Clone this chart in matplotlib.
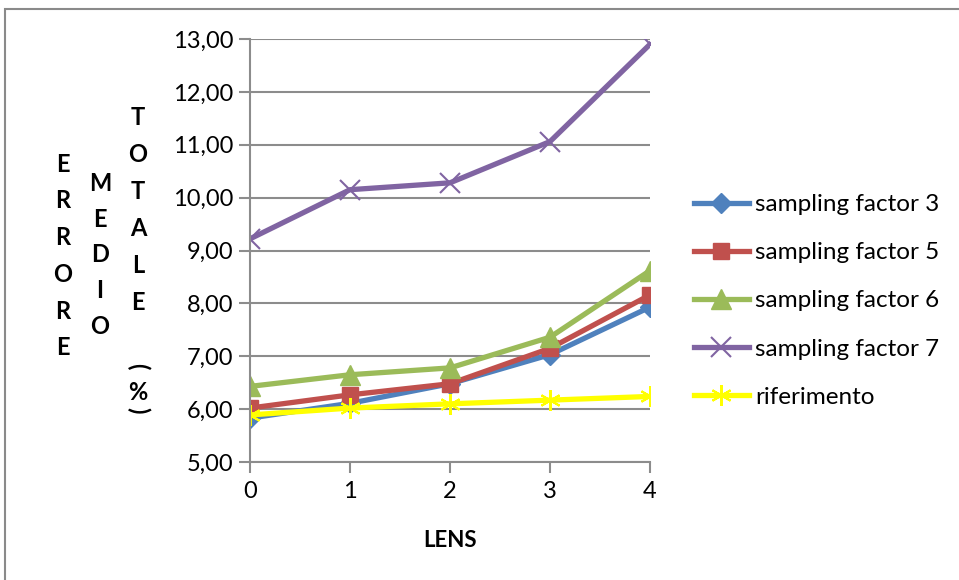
import matplotlib
matplotlib.use("Agg")
import matplotlib.pyplot as plt
from matplotlib.patches import Rectangle
from matplotlib.ticker import FuncFormatter

plt.rcParams['font.family'] = ['Lato', 'DejaVu Sans']

lens = [0, 1, 2, 3, 4]
sf3 = [5.83, 6.11, 6.48, 7.03, 7.93]
sf5 = [6.02, 6.27, 6.48, 7.15, 8.16]
sf6 = [6.43, 6.65, 6.78, 7.36, 8.62]
sf7 = [9.22, 10.15, 10.28, 11.06, 12.90]
rif = [5.89, 6.02, 6.10, 6.17, 6.24]
labels = ["sampling factor 3", "sampling factor 5", "sampling factor 6",
          "sampling factor 7", "riferimento"]
yticks = [5, 6, 7, 8, 9, 10, 11, 12, 13]

W, H = 959, 580
fig = plt.figure(figsize=(W / 100, H / 100), dpi=100)
fig.patches.append(Rectangle((5 / W, -0.1), 1.2, 1 - 9 / H + 0.1, transform=fig.transFigure,
                             fill=False, edgecolor='#8a8a8a', linewidth=1.5))

ax = fig.add_axes([250 / W, 1 - 462 / H, 400 / W, 423 / H])
grid_c = '#8c8c8c'
lw = 3.8
ax.plot(lens, sf3, color='#4F81BD', lw=lw, marker='D', ms=10, label=labels[0])
ax.plot(lens, sf5, color='#C0504D', lw=lw, marker='s', ms=12, label=labels[1])
ax.plot(lens, sf6, color='#9BBB59', lw=lw, marker='^', ms=14, label=labels[2])
ax.plot(lens, sf7, color='#8064A2', lw=lw, marker='x', ms=14, mew=1.5, label=labels[3])
ax.plot(lens, rif, color='#FFFF00', lw=lw, marker=(6, 2, 0), ms=15, mew=1.5, label=labels[4])

ax.set_xlim(0, 4)
ax.set_ylim(5, 13)
ax.set_xticks(lens)
ax.set_yticks(yticks)
ax.yaxis.set_major_formatter(FuncFormatter(lambda v, p: f"{v:.2f}".replace('.', ',')))
ax.grid(axis='y', color=grid_c, lw=1.5)
ax.set_axisbelow(True)
for s in ['top', 'right']:
    ax.spines[s].set_visible(False)
for s in ['left', 'bottom']:
    ax.spines[s].set_color(grid_c)
    ax.spines[s].set_linewidth(1.5)
ax.tick_params(axis='both', direction='out', length=8, width=1.5, color=grid_c,
               labelsize=17, pad=6)
ax.tick_params(axis='y', pad=4)
ax.set_xlabel("LENS", fontsize=16, fontweight='bold', labelpad=20)

# stacked y label
FS = 17
def col(x, yc, text, sp):
    fig.text(x / W, 1 - yc / H, "\n".join(text), ha='center', va='center',
             fontsize=FS, fontweight='bold', linespacing=sp)
col(63, 256, "ERRORE", 1.72)
col(100, 255, "MEDIO", 1.67)
col(138, 210, "TOTALE", 1.73)
fig.text(138 / W, 1 - 366 / H, "(", rotation=-90, ha='center', va='center', fontsize=FS, fontweight='bold')
fig.text(138 / W, 1 - 392 / H, "%", ha='center', va='center', fontsize=FS, fontweight='bold')
fig.text(138 / W, 1 - 410 / H, ")", rotation=-90, ha='center', va='center', fontsize=FS, fontweight='bold')

fig.legend(loc='upper left', bbox_to_anchor=(694 / W, 1 - 194 / H), frameon=False,
           fontsize=17.5, handlelength=2.25, handletextpad=0.25, labelspacing=1.12,
           borderaxespad=0, borderpad=0)

fig.savefig("out.png", dpi=100)
